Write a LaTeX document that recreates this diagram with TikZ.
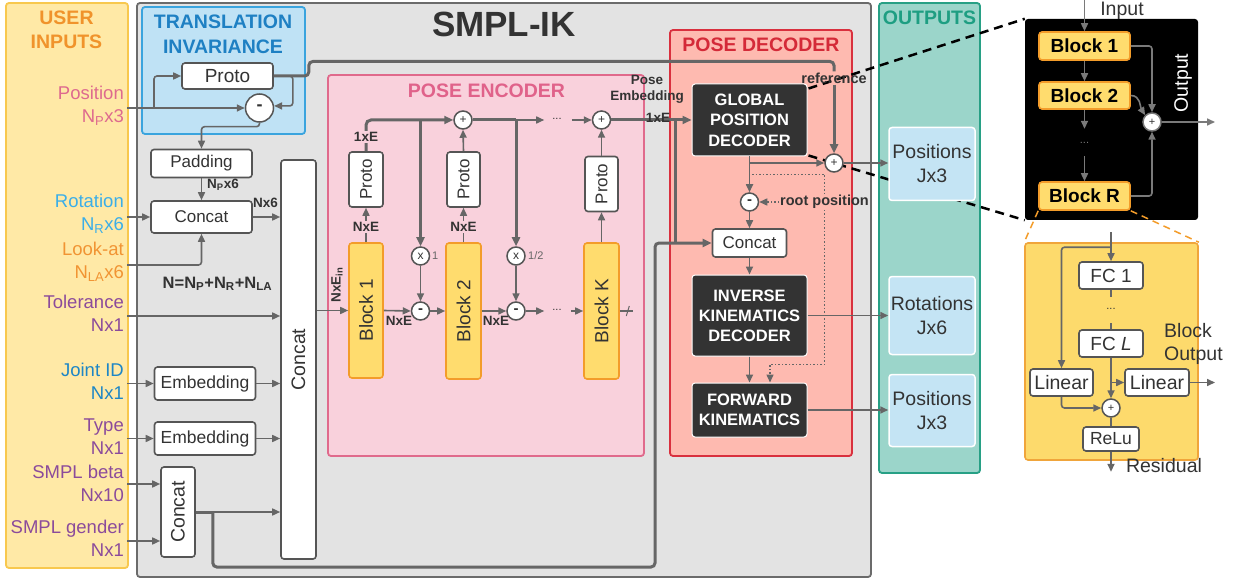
\documentclass[tikz,border=0pt]{standalone}
\usepackage{fontspec}
\setmainfont{Liberation Sans}
\usepackage{graphicx}
\usetikzlibrary{arrows.meta,calc}
\pgfdeclarelayer{bg}
\pgfdeclarelayer{zoomlayer}
\pgfsetlayers{bg,zoomlayer,main}
\newcommand\fz[2]{\fontsize{#1}{#2}\selectfont}

\definecolor{lineg}{HTML}{666666}
\definecolor{bbline}{HTML}{7A7A7A}
\definecolor{boxline}{HTML}{555555}
\definecolor{txt}{HTML}{333333}
\definecolor{userfill}{HTML}{FFE9A6}
\definecolor{userline}{HTML}{F8C84E}
\definecolor{usertitle}{HTML}{F0932B}
\definecolor{cpink}{HTML}{DE6A8E}
\definecolor{cltblue}{HTML}{3BAEE8}
\definecolor{corange}{HTML}{F19433}
\definecolor{cpurple}{HTML}{8B4B9B}
\definecolor{cblue}{HTML}{1D86C6}
\definecolor{ikfill}{HTML}{E3E3E3}
\definecolor{ikline}{HTML}{6B6B6B}
\definecolor{tifill}{HTML}{BFE2F5}
\definecolor{tiline}{HTML}{3AA4DE}
\definecolor{tititle}{HTML}{1E80C3}
\definecolor{encfill}{HTML}{F9D1DC}
\definecolor{encline}{HTML}{E06A8C}
\definecolor{enctitle}{HTML}{E0628A}
\definecolor{decfill}{HTML}{FEBAB0}
\definecolor{decline}{HTML}{D9303E}
\definecolor{dectitle}{HTML}{D42A38}
\definecolor{outfill}{HTML}{9BD5CA}
\definecolor{outborder}{HTML}{27A085}
\definecolor{outtitle}{HTML}{1E9E82}
\definecolor{resfill}{HTML}{C4E4F4}
\definecolor{blkfill}{HTML}{FFDC6E}
\definecolor{blkline}{HTML}{F39C2A}
\definecolor{darkbox}{HTML}{333333}
\definecolor{ybfill}{HTML}{FDDA6C}
\definecolor{ybline}{HTML}{F0A53B}

\tikzset{
  container/.style={line width=1.8pt, rounded corners=3pt, inner sep=0pt},
  wbox/.style={draw=boxline, fill=white, line width=1.6pt, rounded corners=3pt, inner sep=0pt, text=txt},
  yblk/.style={draw=blkline, fill=blkfill, line width=1.6pt, rounded corners=3pt, inner sep=0pt, text=txt},
  dbox/.style={draw=white, fill=darkbox, line width=1pt, rounded corners=3pt, inner sep=0pt, text=white, align=center, font=\bfseries\fz{16.5}{20.5}},
  resbox/.style={draw=white, fill=resfill, line width=1.5pt, rounded corners=3pt, inner sep=0pt, text=txt, align=center, font=\fz{19.5}{24}, minimum width=86pt},
  opnode/.style={circle, draw=boxline, fill=white, line width=1.5pt, inner sep=0pt, minimum size=18pt, text=txt},
  arr/.style={draw=lineg, line width=1.6pt, -{Triangle[length=8pt,width=7pt]}},
  ln/.style={draw=lineg, line width=1.6pt},
  thk/.style={draw=lineg, line width=3pt},
  thkarr/.style={draw=lineg, line width=3pt, -{Triangle[length=9pt,width=8pt]}},
  dotln/.style={draw=lineg, line width=1.5pt, dash pattern=on 1.5pt off 2pt},
  dotarr/.style={dotln, -{Triangle[length=8pt,width=7pt]}},
  lbl/.style={text=txt, font=\bfseries\fz{13.5}{15}, inner sep=1pt},
  inlbl/.style={anchor=east, align=right, inner sep=0pt, font=\fz{18.5}{23}},
  zoomln/.style={draw=black, line width=2.5pt, dash pattern=on 9pt off 6pt},
  orng/.style={draw=blkline, line width=1.5pt, dash pattern=on 7pt off 5pt},
  rblk/.style={yblk, text=black, font=\bfseries\fz{19}{21}, minimum width=91pt, minimum height=28pt},
  bbarr/.style={draw=bbline, line width=1.6pt, -{Triangle[length=8pt,width=7pt]}},
}

\begin{document}
\begin{tikzpicture}[x=1pt,y=-1pt]
\useasboundingbox (0,0) rectangle (1234,580);

% ---------- group frames ----------
\begin{pgfonlayer}{bg}
  \fill[white] (0,0) rectangle (1234,580);
  \node[container, draw=userline, fill=userfill, minimum width=122pt, minimum height=565pt] (userbox) at (67,285.5) {};
  \node[container, draw=ikline, fill=ikfill, minimum width=734pt, minimum height=574pt] (ikbox) at (504,290) {};
  \node[container, draw=tiline, fill=tifill, minimum width=163pt, minimum height=127pt] (tibox) at (223.5,70.5) {};
  \node[container, draw=encline, fill=encfill, minimum width=316pt, minimum height=381pt] (encbox) at (486,265.5) {};
  \node[container, draw=decline, fill=decfill, minimum width=182pt, minimum height=426pt] (decbox) at (761,243) {};
  \node[container, draw=outborder, fill=outfill, minimum width=101pt, minimum height=470pt] (outbox) at (929.5,238) {};
\end{pgfonlayer}

% ---------- titles ----------
\node[font=\bfseries\fz{19.5}{24}, text=usertitle, align=center] (usertitle) at (66.5,30) {USER\\INPUTS};
\node[font=\bfseries\fz{35}{36}, text=txt] (iktitle) at (504,24) {SMPL-IK};
\node[font=\bfseries\fz{19.5}{24.5}, text=tititle, align=center] (tititle) at (223,34.5) {TRANSLATION\\INVARIANCE};
\node[font=\bfseries\fz{19.5}{22}, text=enctitle] (enctitle) at (486.5,91) {POSE ENCODER};
\node[font=\bfseries\fz{19.5}{22}, text=dectitle] (dectitle) at (761,45) {POSE DECODER};
\node[font=\bfseries\fz{19.5}{22}, text=outtitle] (outtitle) at (929.5,18) {OUTPUTS};

% ---------- user inputs ----------
\node[inlbl, text=cpink] (inPos) at (124,106) {Position\\N\textsubscript{P}x3};
\node[inlbl, text=cltblue] (inRot) at (124,213.5) {Rotation\\N\textsubscript{R}x6};
\node[inlbl, text=corange] (inLook) at (124,262) {Look-at\\N\textsubscript{LA}x6};
\node[inlbl, text=cpurple] (inTol) at (124,313) {Tolerance\\Nx1};
\node[inlbl, text=cblue] (inJid) at (124,381) {Joint ID\\Nx1};
\node[inlbl, text=cpurple] (inType) at (124,437) {Type\\Nx1};
\node[inlbl, text=cpurple] (inBeta) at (124,483) {SMPL beta\\Nx10};
\node[inlbl, text=cpurple] (inGen) at (124,538) {SMPL gender\\Nx1};

% ---------- translation invariance and input preparation ----------
\node[wbox, font=\fz{19}{21}, minimum width=91pt, minimum height=26pt] (tiProto) at (227.5,76) {Proto};
\node[opnode, minimum size=28pt, font=\bfseries\fz{18}{18}] (tiMinus) at (259.5,108) {-};
\node[wbox, font=\fz{17}{19}, minimum width=101pt, minimum height=28pt] (padding) at (201.5,163.5) {Padding};
\node[wbox, font=\fz{17}{19}, minimum width=101pt, minimum height=32pt] (cat1) at (201.5,217) {Concat};
\node[wbox, font=\fz{19.5}{21}, minimum width=35pt, minimum height=399pt] (catBig) at (298.5,359.5) {\rotatebox{90}{Concat}};
\node[wbox, font=\fz{17.5}{19}, minimum width=101pt, minimum height=33pt] (emb1) at (205,383.5) {Embedding};
\node[wbox, font=\fz{17.5}{19}, minimum width=101pt, minimum height=33pt] (emb2) at (205,438.5) {Embedding};
\node[wbox, font=\fz{19.5}{21}, minimum width=34pt, minimum height=90pt] (cat2) at (178,512) {\rotatebox{90}{Concat}};

\node[lbl, anchor=west] (lblNp) at (206,185) {N\textsubscript{P}x6};
\node[lbl] (lblNx6) at (265.5,203) {Nx6};
\node[text=txt, font=\bfseries\fz{16.5}{18}] (lblN) at (217.5,284) {N=N\textsubscript{P}+N\textsubscript{R}+N\textsubscript{LA}};

% ---------- pose encoder ----------
\node[yblk, font=\fz{19}{21}, minimum width=34pt, minimum height=135pt] (blk1) at (366,310.5) {\rotatebox{90}{Block 1}};
\node[yblk, font=\fz{19}{21}, minimum width=35pt, minimum height=136pt] (blk2) at (463.5,311) {\rotatebox{90}{Block 2}};
\node[yblk, font=\fz{19}{21}, minimum width=35pt, minimum height=136pt] (blkK) at (601.5,311) {\rotatebox{90}{Block K}};
\node[wbox, font=\fz{17}{19}, minimum width=34pt, minimum height=55pt] (pr1) at (366,179.5) {\rotatebox{90}{Proto}};
\node[wbox, font=\fz{17}{19}, minimum width=33pt, minimum height=55pt] (pr2) at (463.5,179.5) {\rotatebox{90}{Proto}};
\node[wbox, font=\fz{17}{19}, minimum width=33pt, minimum height=55pt] (prK) at (601.5,184) {\rotatebox{90}{Proto}};
\node[opnode, font=\fz{12}{12}] (pl1) at (463,120) {+};
\node[opnode, font=\fz{12}{12}] (plK) at (601.5,120) {+};
\node[opnode, font=\fz{12}{12}] (mul1) at (420.5,256) {x};
\node[opnode, font=\fz{12}{12}] (mul2) at (516,256) {x};
\node[opnode, font=\bfseries\fz{15}{15}] (mi1) at (420.5,311) {-};
\node[opnode, font=\bfseries\fz{15}{15}] (mi2) at (516,311) {-};
\node[text=lineg, font=\fz{11}{11}, anchor=west, inner sep=0pt] (w1) at (432,256) {1};
\node[text=lineg, font=\fz{11}{11}, anchor=west, inner sep=0pt] (w2) at (528,256) {1/2};
\node[text=txt, font=\fz{11}{11}, inner sep=0pt] (dots1) at (557,119) {...};
\node[text=txt, font=\fz{11}{11}, inner sep=0pt] (dots2) at (557,310) {...};

% ---------- pose decoder ----------
\node[dbox, minimum width=115pt, minimum height=72pt] (gpd) at (749.5,120) {GLOBAL\\POSITION\\DECODER};
\node[opnode, font=\fz{12}{12}] (refPlus) at (834,163) {+};
\node[opnode, font=\bfseries\fz{15}{15}] (decMinus) at (749.5,202) {-};
\node[wbox, font=\fz{17}{19}, minimum width=74pt, minimum height=28pt] (decCat) at (749.5,243) {Concat};
\node[dbox, minimum width=115pt, minimum height=81pt, font=\bfseries\fz{16.5}{20}] (ikd) at (749.5,315.5) {INVERSE\\KINEMATICS\\DECODER};
\node[dbox, minimum width=115pt, minimum height=54pt, font=\bfseries\fz{16.5}{20}] (fk) at (749.5,410) {FORWARD\\KINEMATICS};
\node[lbl, font=\bfseries\fz{14.5}{16}] (refLbl) at (834,78) {reference};
\node[lbl, font=\bfseries\fz{14.5}{16}] (rootLbl) at (824.5,202) {root position};
\node[lbl, align=center, font=\bfseries\fz{13.5}{16.5}] (peLbl) at (647,89.5) {Pose\\Embedding};

% ---------- outputs ----------
\node[resbox, minimum height=73pt] (outPos1) at (932,164) {Positions\\Jx3};
\node[resbox, minimum height=78pt] (outRot) at (932,315.5) {Rotations\\Jx6};
\node[resbox, minimum height=72pt] (outPos2) at (932,410.5) {Positions\\Jx3};

% ---------- residual stack detail ----------
\node[fill=black, rounded corners=3pt, minimum width=173pt, minimum height=201pt, inner sep=0pt] (bb) at (1111.5,119.5) {};
\node[rblk] (rb1) at (1084.5,46) {Block 1};
\node[rblk, minimum height=27pt] (rb2) at (1084.5,95.5) {Block 2};
\node[rblk] (rbR) at (1084.5,196) {Block R};
\node[opnode, draw=bbline, font=\fz{11}{11}] (bbPlus) at (1152,122) {+};
\node[text=bbline, font=\fz{11}{11}, inner sep=0pt] (dots3) at (1084.5,143) {...};
\node[rotate=90, text=white, font=\fz{19.5}{21}] (outLbl) at (1183,83) {Output};
\node[text=txt, font=\fz{19.5}{21}, inner sep=0pt] (inputLbl) at (1122,11) {Input};
\coordinate (inTop) at (1084.5,0);

% ---------- single block detail ----------
\node[fill=ybfill, draw=ybline, line width=1.6pt, rounded corners=3pt, minimum width=173pt, minimum height=217pt, inner sep=0pt] (yb) at (1111.5,351.5) {};
\node[wbox, font=\fz{19}{21}, minimum width=64pt, minimum height=27pt] (fc1) at (1111,275.5) {FC 1};
\node[wbox, font=\fz{19}{21}, minimum width=64pt, minimum height=27pt] (fcL) at (1111,343.5) {FC \textit{L}};
\node[wbox, font=\fz{19.5}{21}, minimum width=63pt, minimum height=27pt] (linL) at (1061.5,382.5) {Linear};
\node[wbox, font=\fz{19.5}{21}, minimum width=64pt, minimum height=27pt] (linR) at (1157,382.5) {Linear};
\node[opnode, font=\fz{11}{11}] (ybPlus) at (1111,408) {+};
\node[wbox, font=\fz{17.5}{19}, minimum width=56pt, minimum height=24pt] (relu) at (1111,439) {ReLu};
\node[text=txt, font=\fz{11}{11}, inner sep=0pt] (dots4) at (1111,309) {...};
\node[text=txt, font=\fz{19.5}{21}] (resLbl) at (1164,466) {Residual};
\node[anchor=west, align=left, font=\fz{19.5}{23.5}, text=txt, inner sep=0pt] (blkOutLbl) at (1164,344) {Block\\Output};

% ---------- zoom guides ----------
\begin{pgfonlayer}{zoomlayer}
  \draw[zoomln] ($(gpd.north east)+(1,5)$) -- (bb.north west);
  \draw[zoomln] ($(gpd.south east)+(1,-1)$) -- (bb.south west);
\end{pgfonlayer}
\draw[orng] (rbR.south west) -- (yb.north west);
\draw[orng] (rbR.south east) -- (yb.north east);

% ---------- connectors: inputs ----------
\coordinate (posOut) at ($(inPos.east)+(3,2)$);
\coordinate (posBr) at ($(inPos.east)+(30,2)$);
\draw[arr] (posOut) -- (tiMinus.west);
\draw[arr, rounded corners=3pt] (posBr) |- (tiProto.west);
\draw[arr, rounded corners=3pt] (tiProto.east) -- ++(19,0) |- (tiMinus.8);
\draw[arr, rounded corners=3pt] (tiMinus.south) |- ($(padding.north)+(0,-22)$) -- (padding.north);
\draw[arr] (padding.south) -- (cat1.north);
\coordinate (rotOut) at ($(inRot.east)+(3,0)$);
\draw[arr] (rotOut |- cat1.west) -- (cat1.west);
\coordinate (lookOut) at ($(inLook.east)+(3,3)$);
\draw[arr, rounded corners=3pt] (lookOut) -| (cat1.south);
\draw[arr] (cat1.east) -- (cat1.east -| catBig.west);
\coordinate (tolOut) at ($(inTol.east)+(3,3)$);
\draw[arr] (tolOut) -- (tolOut -| catBig.west);
\coordinate (jidOut) at ($(inJid.east)+(3,0)$);
\draw[arr] (jidOut |- emb1.west) -- (emb1.west);
\draw[arr] (emb1.east) -- (emb1.east -| catBig.west);
\coordinate (typeOut) at ($(inType.east)+(3,0)$);
\draw[arr] (typeOut |- emb2.west) -- (emb2.west);
\draw[arr] (emb2.east) -- (emb2.east -| catBig.west);
\coordinate (betaOut) at ($(inBeta.east)+(3,1)$);
\draw[arr] (betaOut) -- (betaOut -| cat2.west);
\coordinate (genOut) at ($(inGen.east)+(3,3)$);
\draw[arr] (genOut) -- (genOut -| cat2.west);
\coordinate (smplTurn) at ($(cat2.east)+(17,0)$);
\draw[thk] (cat2.east) -- (smplTurn);
\draw[arr] (smplTurn) -- (smplTurn -| catBig.west);
\coordinate (busCorner) at (655,567);
\draw[thkarr, rounded corners=4pt] (smplTurn) |- (busCorner) |- (decCat.west);

% reference line from the translation prototype
\draw[thk, rounded corners=4pt] (tiProto.east) -- ++(35,0) -- ++(0,-14.5) -| (refLbl.north);
\draw[thkarr] (refLbl.south) -- (refPlus.north);

% ---------- connectors: encoder ----------
\draw[arr] (catBig.east |- blk1.west) -- (blk1.west);
\node[lbl, rotate=90] (lblEin) at (337,285) {NxE\textsubscript{in}};
\draw[arr] (blk1.north) -- (pr1.south);
\node[lbl, fill=encfill] (lblB1) at (366,227) {NxE};
\draw[thkarr, rounded corners=5pt] (pr1.north) |- (pl1.west);
\node[lbl, fill=encfill] (lblP1) at (366,137) {1xE};
\coordinate (br1) at (mul1.north |- pl1.west);
\draw[thkarr] (br1) -- (mul1.north);
\draw[arr] (mul1.south) -- (mi1.north);
\draw[arr] (blk1.east) -- (mi1.west);
\node[lbl] (lblA1) at (399,321) {NxE};
\draw[arr] (mi1.east) -- (blk2.west);
\draw[arr] (blk2.north) -- (pr2.south);
\node[lbl, fill=encfill] (lblB2) at (463.5,227) {NxE};
\draw[arr] (pr2.north) -- (pl1.south);
\coordinate (br2) at (mul2.north |- pl1.east);
\draw[thk] (pl1.east) -- (br2);
\draw[thkarr] (br2) -- (mul2.north);
\draw[arr] (br2) -- ($(dots1.west |- pl1.east)+(-8,0)$);
\draw[arr] ($(dots1.east |- plK.west)+(10,0)$) -- (plK.west);
\draw[arr] (mul2.south) -- (mi2.north);
\draw[arr] (blk2.east) -- (mi2.west);
\node[lbl] (lblA2) at (496,321) {NxE};
\draw[arr] (mi2.east) -- ($(dots2.west |- mi2.east)+(-8,0)$);
\draw[arr] ($(dots2.east |- blkK.west)+(9,0)$) -- (blkK.west);
\draw[ln] (blkK.east) -- ++(13,0);
\draw[draw=lineg, line width=1pt] ($(blkK.east)+(6.5,5)$) -- ($(blkK.east)+(9.5,-5)$);
\draw[arr] (blkK.north) -- (prK.south);
\draw[arr] (prK.north) -- (plK.south);

% ---------- connectors: decoder ----------
\draw[thkarr] (plK.east) -- (gpd.west);
\coordinate (peJoin) at ($(gpd.west)+(-16,0)$);
\draw[thk] (peJoin) -- (peJoin |- decCat.west);
\node[lbl] (peDim) at (658,118) {1xE};
\draw[arr] (gpd.south) -- (decMinus.north);
\draw[arr] (gpd.south |- refPlus.west) -- (refPlus.west);
\draw[arr] (refPlus.east) -- (refPlus.east -| outPos1.west);
\coordinate (rootTap) at ($(gpd.south)+(2.5,18)$);
\draw[dotln] (rootTap) -| (rootLbl.north);
\draw[dotarr] (rootLbl.south) |- ($(fk.north)+(20.5,-18)$) -- ($(fk.north)+(20.5,0)$);
\draw[dotarr] (rootLbl.west) -- (decMinus.east);
\draw[arr] (decMinus.south) -- (decCat.north);
\draw[arr] (decCat.south) -- (ikd.north);
\draw[arr] (ikd.south) -- (fk.north);
\draw[arr] (ikd.east) -- (ikd.east -| outRot.west);
\draw[arr] (fk.east) -- (fk.east -| outPos2.west);

% ---------- connectors: residual stack ----------
\draw[bbarr] (inTop) -- (rb1.north);
\draw[bbarr] (rb1.south) -- (rb2.north);
\draw[bbarr] (rb2.south) -- ++(0,19);
\draw[bbarr] ($(rbR.north)+(0,-25)$) -- (rbR.north);
\draw[bbarr, rounded corners=3pt] (rb1.east) -| (bbPlus.north);
\draw[bbarr] (rb2.east) .. controls +(10,0) and +(-5,-8) .. (bbPlus.135);
\draw[bbarr, rounded corners=3pt] (rbR.east) -| (bbPlus.south);
\coordinate (bbOut) at (1215,122);
\draw[bbarr] (bbPlus.east) -- (bbOut);

% ---------- connectors: single block ----------
\coordinate (ybIn) at ($(fc1.north)+(0,-29)$);
\coordinate (ybBr) at ($(fc1.north)+(0,-14)$);
\draw[arr] (ybIn) -- (fc1.north);
\draw[arr, rounded corners=3pt] (ybBr) -| (linL.north);
\draw[ln] (fc1.south) -- ++(0,7);
\draw[ln] (fcL.north) -- ++(0,-6);
\draw[arr] (fcL.south) -- (ybPlus.north);
\coordinate (fcTap) at (fcL.south |- linR.west);
\draw[arr] (fcTap) -- (linR.west);
\draw[arr, rounded corners=3pt] (linL.south) |- (ybPlus.west);
\draw[ln] (ybPlus.south) -- (relu.north);
\coordinate (resOut) at ($(relu.south)+(0,20)$);
\draw[arr] (relu.south) -- (resOut);
\coordinate (blkOut) at (1215,382.5);
\draw[arr] (linR.east) -- (blkOut);
\end{tikzpicture}
\end{document}
